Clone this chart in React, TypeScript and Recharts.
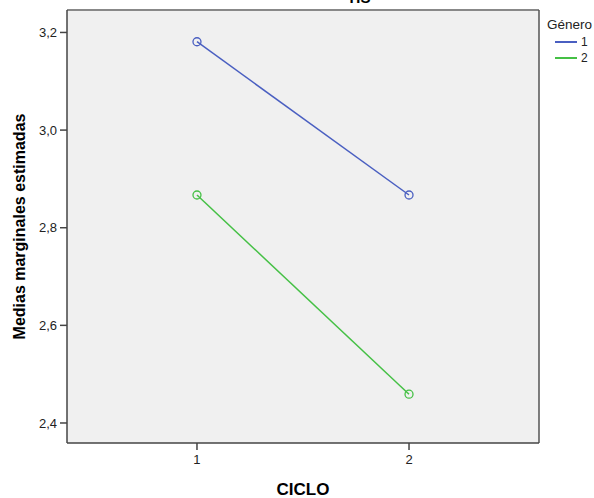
import React from "react";
import {
  LineChart,
  Line,
  XAxis,
  YAxis,
  CartesianGrid,
  Legend,
  ReferenceLine,
} from "recharts";

const ciclos = [1, 2];
const genero1 = [3.181, 2.867];
const genero2 = [2.867, 2.459];
const yTicks = [2.4, 2.6, 2.8, 3.0, 3.2];
const xTicks = [1, 2];
const seriesNames = ["1", "2"];
const seriesColors = ["#4a5fc1", "#45c045"];

const X_DOMAIN: [number, number] = [0.387, 2.613];
const Y_DOMAIN: [number, number] = [2.359, 3.246];

const data = ciclos.map((c, i) => ({ ciclo: c, g1: genero1[i], g2: genero2[i] }));

const FONT = "Arial, 'Liberation Sans', sans-serif";

const HollowDot = (props: any) => {
  const { cx, cy, stroke } = props;
  if (cx == null || cy == null) return null;
  return <circle cx={cx} cy={cy} r={4} fill="none" stroke={stroke} strokeWidth={1.3} />;
};

const LegendContent = () => (
  <div style={{ fontFamily: FONT, fontSize: 13.5, color: "#222", textAlign: "left", whiteSpace: "nowrap" }}>
    <div style={{ lineHeight: "15px", marginBottom: 2 }}>Género</div>
    {seriesNames.map((n, i) => (
      <div key={n} style={{ display: "flex", alignItems: "center", height: 16, paddingLeft: 8, fontSize: 12 }}>
        <span style={{ display: "inline-block", width: 22, height: 2, background: seriesColors[i], marginRight: 4 }} />
        <span>{n}</span>
      </div>
    ))}
  </div>
);

export default function App() {
  return (
    <div style={{ position: "absolute", left: 0, top: 0, width: 594, height: 498, background: "#fff", overflow: "hidden" }}>
      <div
        style={{
          position: "absolute",
          top: -10,
          left: 330,
          width: 60,
          textAlign: "center",
          fontFamily: FONT,
          fontWeight: "bold",
          fontSize: 15,
          lineHeight: "15px",
          color: "#000",
        }}
      >
        HS
      </div>
      <LineChart width={594} height={498} data={data} margin={{ top: 10, right: 55, bottom: 0, left: 0 }}>
        <CartesianGrid fill="#f0f0f0" horizontal={false} vertical={false} />
        <XAxis
          dataKey="ciclo"
          type="number"
          domain={X_DOMAIN}
          ticks={xTicks}
          allowDataOverflow
          height={55}
          stroke="#444"
          tickSize={7}
          tickMargin={5}
          tick={{ fill: "#222", fontSize: 13, fontFamily: FONT }}
          axisLine={{ stroke: "#444", strokeWidth: 1.5 }}
          tickLine={{ stroke: "#444", strokeWidth: 1.5 }}
          label={{ value: "CICLO", position: "insideBottom", offset: 3, fill: "#000", fontSize: 17, fontWeight: "bold", fontFamily: FONT }}
        />
        <YAxis
          type="number"
          domain={Y_DOMAIN}
          ticks={yTicks}
          allowDataOverflow
          width={67}
          tickSize={7}
          tickMargin={3}
          tickFormatter={(v: number) => v.toFixed(1).replace(".", ",")}
          tick={{ fill: "#222", fontSize: 13, fontFamily: FONT }}
          axisLine={{ stroke: "#444", strokeWidth: 1.5 }}
          tickLine={{ stroke: "#444", strokeWidth: 1.5 }}
          label={{
            value: "Medias marginales estimadas",
            angle: -90,
            position: "insideLeft",
            offset: 19,
            style: { textAnchor: "middle" },
            fill: "#000",
            fontSize: 16,
            fontWeight: "bold",
            fontFamily: FONT,
          }}
        />
        <ReferenceLine y={Y_DOMAIN[1]} stroke="#888" strokeWidth={2} ifOverflow="visible" />
        <ReferenceLine x={X_DOMAIN[1]} stroke="#555" strokeWidth={1.5} ifOverflow="visible" />
        <Legend
          layout="vertical"
          verticalAlign="middle"
          align="center"
          content={<LegendContent />}
          wrapperStyle={{ position: "absolute", left: 547, top: 17, width: 60 }}
        />
        <Line
          dataKey="g1"
          name={seriesNames[0]}
          stroke={seriesColors[0]}
          strokeWidth={1.5}
          dot={<HollowDot />}
          activeDot={false}
          isAnimationActive={false}
        />
        <Line
          dataKey="g2"
          name={seriesNames[1]}
          stroke={seriesColors[1]}
          strokeWidth={1.5}
          dot={<HollowDot />}
          activeDot={false}
          isAnimationActive={false}
        />
      </LineChart>
    </div>
  );
}
